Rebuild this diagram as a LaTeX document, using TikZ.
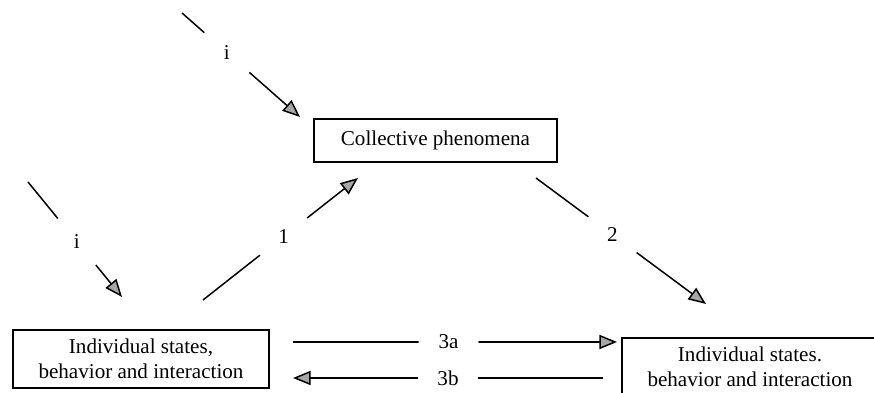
\documentclass[tikz,border=0pt]{standalone}
\usepackage{fontspec}
\setmainfont{Liberation Serif}
\usetikzlibrary{arrows.meta}

\begin{document}
\begin{tikzpicture}[line width=0.85pt,
		kasten/.style={draw,line width=0.6pt,rectangle,align=center,inner sep=0pt,minimum width=5.12cm,minimum height=1.16cm},
		pfeil/.style={-{Triangle[length=10pt,width=8pt,fill=black!35]}},
		luecke/.style={circle,fill=white,minimum size=1.2cm,inner sep=0pt},
		font=\fontsize{12}{14}\selectfont]
			\useasboundingbox (0,0) rectangle (17.48,7.86);

			%%Kaesten
			\node[kasten,minimum width=4.86cm,minimum height=0.86cm] (kollektiv) at (8.71,5.05) {Collective phenomena};
			\node[kasten] (indivL) at (2.82,0.68) {Individual states,\\behavior and interaction};
			\node[kasten] (indivR) at (15.00,0.52) {Individual states.\\behavior and interaction};

			%%Endpunkte
			\coordinate (iO1) at (3.64,7.60);
			\coordinate (iO2) at (6.00,5.52);
			\coordinate (iL1) at (0.56,4.22);
			\coordinate (iL2) at (2.44,1.92);
			\coordinate (e1) at (4.06,1.86);
			\coordinate (e2) at (7.16,4.30);
			\coordinate (z1) at (10.72,4.30);
			\coordinate (z2) at (14.12,1.78);
			\coordinate (da1) at (5.86,1.02);
			\coordinate (da2) at (12.34,1.02);
			\coordinate (db1) at (12.06,0.30);
			\coordinate (db2) at (5.86,0.30);

			%%Pfeile
			\draw[pfeil] (iO1) -- node[luecke,pos=0.38] (lab-iO) {i} (iO2);
			\draw[pfeil] (iL1) -- node[luecke,pos=0.52] (lab-iL) {i} (iL2);
			\draw[pfeil] (e1) -- node[luecke,pos=0.52] (lab-1) {1} (e2);
			\draw[pfeil] (z1) -- node[luecke,pos=0.45] (lab-2) {2} (z2);
			\draw[pfeil] (da1) -- node[luecke,pos=0.48] (lab-3a) {3a} (da2);
			\draw[pfeil] (db1) -- node[luecke,pos=0.5] (lab-3b) {3b} (db2);
		\end{tikzpicture}
\end{document}
